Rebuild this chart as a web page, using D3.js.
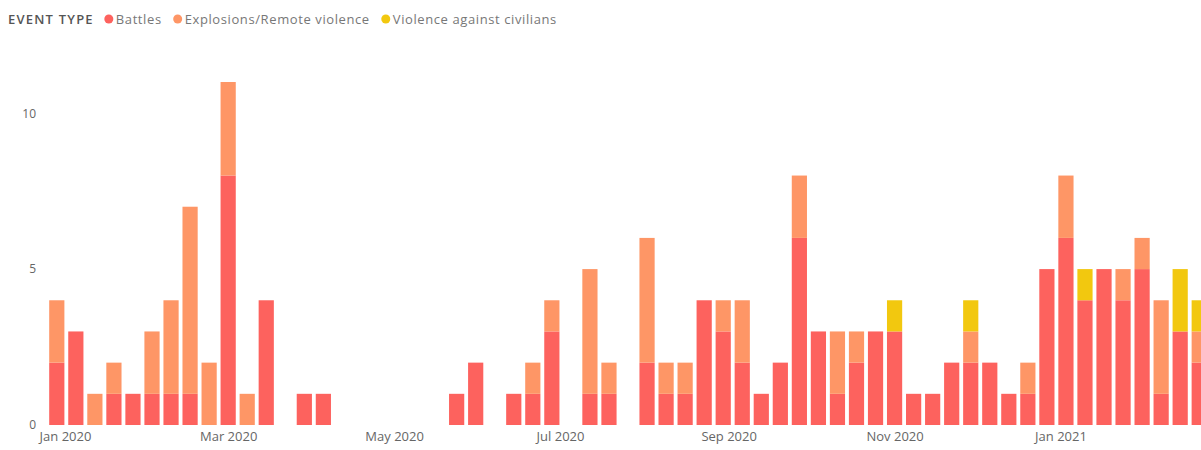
<!DOCTYPE html>
<html>
<head>
<meta charset="utf-8">
<script src="https://cdn.jsdelivr.net/npm/d3@7"></script>
<style>
html,body{margin:0;padding:0;background:#fff;overflow:hidden;}
svg{display:block;font-family:"Open Sans","Noto Sans",sans-serif;}
</style>
</head>
<body>
<svg id="chart" width="1201" height="450"></svg>
<script>
// ---- data ----
const weeks = [
 "2019-12-29","2020-01-05","2020-01-12","2020-01-19","2020-01-26","2020-02-02","2020-02-09","2020-02-16","2020-02-23","2020-03-01",
 "2020-03-08","2020-03-15","2020-03-22","2020-03-29","2020-04-05","2020-04-12","2020-04-19","2020-04-26","2020-05-03","2020-05-10",
 "2020-05-17","2020-05-24","2020-05-31","2020-06-07","2020-06-14","2020-06-21","2020-06-28","2020-07-05","2020-07-12","2020-07-19",
 "2020-07-26","2020-08-02","2020-08-09","2020-08-16","2020-08-23","2020-08-30","2020-09-06","2020-09-13","2020-09-20","2020-09-27",
 "2020-10-04","2020-10-11","2020-10-18","2020-10-25","2020-11-01","2020-11-08","2020-11-15","2020-11-22","2020-11-29","2020-12-06",
 "2020-12-13","2020-12-20","2020-12-27","2021-01-03","2021-01-10","2021-01-17","2021-01-24","2021-01-31","2021-02-07","2021-02-14",
 "2021-02-21"
];
const battles = [
 2,3,0,1,1,1,1,1,0,8,
 0,4,0,1,1,0,0,0,0,0,
 0,1,2,0,1,1,3,0,1,1,
 0,2,1,1,4,3,2,1,2,6,
 3,1,2,3,3,1,1,2,2,2,
 1,1,5,6,4,5,4,5,1,3,
 2
];
const explosions = [
 2,0,1,1,0,2,3,6,2,3,
 1,0,0,0,0,0,0,0,0,0,
 0,0,0,0,0,1,1,0,4,1,
 0,4,1,1,0,1,2,0,0,2,
 0,2,1,0,0,0,0,0,1,0,
 0,1,0,2,0,0,1,1,3,0,
 1
];
const civilians = [
 0,0,0,0,0,0,0,0,0,0,
 0,0,0,0,0,0,0,0,0,0,
 0,0,0,0,0,0,0,0,0,0,
 0,0,0,0,0,0,0,0,0,0,
 0,0,0,0,1,0,0,0,1,0,
 0,0,0,0,1,0,0,0,0,2,
 1
];
const seriesNames = ["Battles","Explosions/Remote violence","Violence against civilians"];
const seriesColors = ["#FD625E","#FE9666","#F2C80F"];
const yTicks = [0,5,10];
const xTickDates = ["2020-01-01","2020-03-01","2020-05-01","2020-07-01","2020-09-01","2020-11-01","2021-01-01"];
const legendTitle = "EVENT TYPE";

// ---- build ----
const parse = d3.timeParse("%Y-%m-%d");
const rows = weeks.map((w,i)=>({date:parse(w), Battles:battles[i], "Explosions/Remote violence":explosions[i], "Violence against civilians":civilians[i]}));
const stack = d3.stack().keys(seriesNames)(rows);

const svg = d3.select("#chart");
const x = d3.scaleTime()
  .domain([new Date(2019,11,24), new Date(2021,2,7)])
  .range([43.2, 1237.3]);
const y = d3.scaleLinear().domain([0,11]).range([425, 82]);

const color = d3.scaleOrdinal().domain(seriesNames).range(seriesColors);
const bw = 15.2;

svg.append("g").selectAll("g").data(stack).join("g")
  .attr("fill", d=>color(d.key))
  .selectAll("rect").data(d=>d.filter(p=>p[1]-p[0]>0)).join("rect")
  .attr("x", d=>x(d.data.date)-bw/2)
  .attr("width", bw)
  .attr("y", d=>y(d[1]))
  .attr("height", d=>y(d[0])-y(d[1]));

const FONT = "'Open Sans','Noto Sans',sans-serif";

// y axis
const yAxis = svg.append("g").attr("transform","translate(36,0)")
  .call(d3.axisLeft(y).tickValues(yTicks).tickSize(0).tickPadding(0));
yAxis.select(".domain").remove();
yAxis.selectAll("text").attr("fill","#666").style("font-size","12px").style("font-family",FONT);

// x axis
const xAxis = svg.append("g").attr("transform","translate(0,432)")
  .call(d3.axisBottom(x).tickValues(xTickDates.map(parse)).tickFormat(d3.timeFormat("%b %Y")).tickSize(0).tickPadding(0));
xAxis.select(".domain").remove();
xAxis.selectAll("text").attr("fill","#666").style("font-size","13px").style("font-family",FONT);

// legend
const lg = svg.append("g").attr("transform","translate(8,19)");
const title = lg.append("text").text(legendTitle).attr("x",0).attr("dy","0.35em")
  .attr("fill","#555").style("font-size","13px").style("font-weight","600").style("letter-spacing","1.2px");
let cx = title.node().getComputedTextLength() + 15;
seriesNames.forEach((n,i)=>{
  lg.append("circle").attr("cx",cx).attr("cy",0).attr("r",4.5).attr("fill",seriesColors[i]);
  const t = lg.append("text").text(n).attr("x",cx+7).attr("dy","0.35em")
    .attr("fill","#777").style("font-size","13px").style("letter-spacing","0.6px");
  cx += 7 + t.node().getComputedTextLength() + 16;
});
</script>
</body>
</html>
